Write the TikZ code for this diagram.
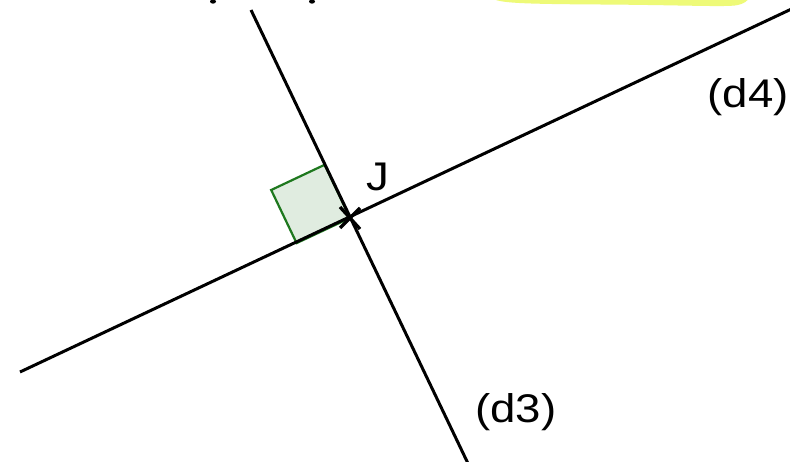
\documentclass[tikz,border=0pt]{standalone}
\usepackage{fontspec}
\setmainfont{Liberation Sans}
\usetikzlibrary{calc}
\begin{document}
\begin{tikzpicture}[x=1pt,y=-1pt,
  ln/.style={line width=3pt,black},
  lbl/.style={font=\fontsize{40}{40}\selectfont,inner sep=0pt,xscale=1.14},
  sq/.style={draw={rgb,255:red,30;green,120;blue,30},fill={rgb,255:red,224;green,236;blue,224},line width=2.2pt,line join=miter}]
\definecolor{hl}{RGB}{238,250,120}
\useasboundingbox (0,0) rectangle (790,462);
\clip (0,0) rectangle (790,462);
\fill[white] (0,0) rectangle (790,462);
% highlight and cut-off marks at top
\fill[hl] (492,-2) .. controls (498,3) and (520,4) .. (600,4.5) .. controls (680,5) and (720,7) .. (735,5.5) .. controls (745,4) and (748,0) .. (749,-2) -- cycle;
\fill (213,1.5) ellipse (3pt and 2.2pt);
\fill (312,1.5) ellipse (3pt and 2.2pt);
% geometry
\coordinate (J) at (350,218);
\coordinate (A) at (324.6,164.8);
\coordinate (C) at (271.2,190);
\coordinate (B) at (296.6,243.1);
\path[sq] (J) -- (A) -- (C) -- (B) -- cycle;
\coordinate (d3a) at (251,10);
\coordinate (d3b) at (474,476);
\coordinate (d4a) at (20,372);
\coordinate (d4b) at (800,5);
\draw[ln] (d3a) -- (d3b);
\draw[ln] (d4a) -- (d4b);
\draw[line width=3.3pt] ($(J)+(-10,-11)$) -- ($(J)+(10,11)$);
\draw[line width=3.3pt] ($(J)+(-10,10)$) -- ($(J)+(10,-10)$);
\node[lbl] (jl) at (378,177) {J};
\node[lbl] (d4) at (748,97) {(d4)};
\node[lbl] (d3) at (516,412) {(d3)};
\end{tikzpicture}
\end{document}
